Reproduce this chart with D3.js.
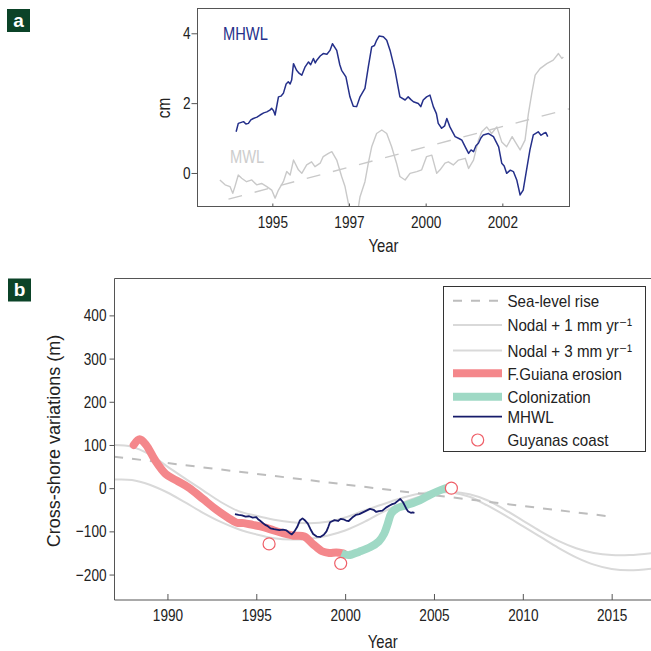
<!DOCTYPE html>
<html><head><meta charset="utf-8">
<script src="https://cdn.jsdelivr.net/npm/d3@7"></script>
<style>
body{margin:0;background:#fff}
svg text{font-family:"Liberation Sans",Arial,Helvetica,"DejaVu Sans",sans-serif;fill:#222}
</style>
</head><body>
<svg id="c" width="651" height="651"></svg>
<script>
// ---------- DATA ----------
// Panel a
const aXTickValues = [1995, 1997.5, 2000, 2002.5];
const aXTickLabels = ["1995", "1997", "2000", "2002"];
const aYTicks = [0, 2, 4];
const mhwlA = [[1993.82,1.18],[1993.89,1.42],[1994.06,1.47],[1994.14,1.40],[1994.22,1.42],[1994.30,1.52],[1994.38,1.56],[1994.50,1.60],[1994.60,1.66],[1994.72,1.72],[1994.82,1.75],[1994.92,1.80],[1994.98,1.85],[1995.04,1.78],[1995.09,1.66],[1995.20,2.18],[1995.28,2.20],[1995.36,2.28],[1995.45,2.55],[1995.52,2.61],[1995.58,2.55],[1995.63,2.66],[1995.69,3.13],[1995.79,2.94],[1995.88,2.85],[1995.96,2.80],[1996.07,3.04],[1996.18,3.18],[1996.25,3.10],[1996.34,3.28],[1996.40,3.15],[1996.45,3.23],[1996.56,3.35],[1996.66,3.42],[1996.78,3.40],[1996.88,3.51],[1996.96,3.70],[1997.10,3.51],[1997.20,3.10],[1997.26,2.94],[1997.40,2.75],[1997.53,2.18],[1997.64,1.91],[1997.75,1.90],[1997.86,2.18],[1998.02,2.42],[1998.13,3.04],[1998.24,3.61],[1998.33,3.65],[1998.40,3.80],[1998.48,3.92],[1998.62,3.90],[1998.73,3.80],[1998.84,3.51],[1999.00,2.94],[1999.16,2.18],[1999.33,2.09],[1999.43,2.18],[1999.52,2.10],[1999.60,2.04],[1999.76,1.99],[1999.84,1.90],[1999.92,2.09],[2000.03,2.18],[2000.14,2.23],[2000.25,1.90],[2000.35,1.70],[2000.41,1.42],[2000.52,1.28],[2000.62,1.35],[2000.69,1.56],[2000.79,1.32],[2000.96,1.04],[2001.10,0.98],[2001.18,0.94],[2001.29,0.75],[2001.40,0.56],[2001.48,0.66],[2001.56,0.61],[2001.64,0.78],[2001.72,0.85],[2001.80,1.00],[2001.88,1.09],[2002.05,1.13],[2002.21,1.04],[2002.38,0.75],[2002.48,0.28],[2002.56,0.20],[2002.64,-0.01],[2002.76,0.08],[2002.86,0.04],[2002.97,-0.20],[2003.08,-0.63],[2003.18,-0.49],[2003.29,0.09],[2003.40,0.66],[2003.51,1.09],[2003.67,1.18],[2003.76,1.08],[2003.84,1.13],[2003.92,1.16],[2003.98,1.04]];
const mwlA = [[1993.29,-0.20],[1993.46,-0.34],[1993.62,-0.39],[1993.71,-0.58],[1993.78,-0.39],[1993.89,-0.06],[1994.00,-0.15],[1994.16,-0.25],[1994.33,-0.20],[1994.49,-0.34],[1994.65,-0.30],[1994.82,-0.39],[1994.98,-0.49],[1995.09,-0.72],[1995.20,-0.49],[1995.36,-0.25],[1995.47,0.04],[1995.58,-0.06],[1995.69,0.37],[1995.85,0.09],[1995.96,-0.01],[1996.12,0.23],[1996.28,0.32],[1996.39,0.18],[1996.56,0.28],[1996.66,0.47],[1996.83,0.56],[1996.94,0.61],[1997.10,0.37],[1997.26,-0.10],[1997.37,-0.39],[1997.48,-0.87],[1997.56,-1.40],[1997.73,-1.40],[1997.86,-0.68],[1998.02,-0.25],[1998.13,0.28],[1998.24,0.75],[1998.40,1.13],[1998.57,1.23],[1998.73,1.13],[1998.89,0.75],[1999.05,0.28],[1999.16,-0.10],[1999.33,-0.20],[1999.49,-0.01],[1999.71,0.04],[1999.87,0.09],[2000.03,0.47],[2000.20,0.51],[2000.36,-0.01],[2000.47,0.09],[2000.63,0.28],[2000.74,0.32],[2000.90,0.23],[2001.07,0.37],[2001.29,0.42],[2001.40,0.13],[2001.56,0.37],[2001.72,0.94],[2001.83,1.18],[2001.99,1.32],[2002.15,1.13],[2002.32,1.32],[2002.48,0.89],[2002.64,0.75],[2002.82,1.04],[2002.92,0.89],[2003.08,0.66],[2003.24,0.94],[2003.35,1.70],[2003.46,2.28],[2003.57,2.80],[2003.73,2.99],[2003.95,3.13],[2004.16,3.23],[2004.33,3.42],[2004.44,3.28],[2004.49,3.32]];
const mwlTrendA = [[1993.57,-0.75],[2004.74,1.85]];

// Panel b
const bXTicks = [1990, 1995, 2000, 2005, 2010, 2015];
const bYTicks = [-200, -100, 0, 100, 200, 300, 400];
const seaLevelRise = [[1987,73],[2015,-66]];
const nodal1 = [[1987,20],[1988,19],[1989,8],[1990,-10],[1991,-33],[1992,-57],[1993,-78],[1994,-95],[1995,-107],[1996,-116],[1997,-119],[1998,-117],[1999,-110],[2000,-98],[2001,-80],[2002,-58],[2003,-38],[2004,-22],[2005,-12],[2006,-9],[2007,-14],[2008,-28],[2009,-50],[2010,-75],[2011,-100],[2012,-122],[2013,-139],[2014,-150],[2015,-155],[2016,-155],[2017.3,-150]];
const nodal3 = [[1987,100],[1988,96],[1989,78],[1990,50],[1991,22],[1992,-5],[1993,-32],[1994,-53],[1995,-64],[1996,-73],[1997,-79],[1998,-81],[1999,-78],[2000,-68],[2001,-53],[2002,-39],[2003,-25],[2004,-14],[2005,-9],[2006,-10],[2007,-20],[2008,-40],[2009,-63],[2010,-88],[2011,-113],[2012,-138],[2013,-160],[2014,-177],[2015,-187],[2016,-190],[2017.3,-186]];
const erosion = [[1988.1,100],[1988.44,113],[1988.8,100],[1989.3,65],[1989.9,33],[1990.5,18],[1991.25,0],[1992,-25],[1992.76,-50],[1993.4,-68],[1993.9,-80],[1994.3,-81],[1994.8,-85],[1995.4,-90],[1996,-98],[1996.5,-104],[1997.1,-110],[1997.7,-112],[1998.2,-130],[1998.7,-146],[1999.1,-150],[1999.5,-149],[1999.9,-151]];
const colonization = [[1999.8,-151],[2000.2,-155],[2000.8,-147],[2001.4,-137],[2001.9,-123],[2002.2,-105],[2002.4,-82],[2002.6,-58],[2002.9,-47],[2003.4,-40],[2004.2,-28],[2004.8,-15],[2005.4,-4],[2005.9,3]];
const mhwlB = [[1993.8,-60],[1994.0,-62],[1994.2,-63],[1994.4,-66],[1994.6,-65],[1994.8,-68],[1995.0,-67],[1995.1,-72],[1995.2,-75],[1995.35,-80],[1995.5,-85],[1995.65,-88],[1995.8,-93],[1996.0,-95],[1996.3,-97],[1996.5,-96],[1996.7,-98],[1996.85,-103],[1997.0,-107],[1997.15,-100],[1997.3,-90],[1997.45,-75],[1997.6,-70],[1997.75,-75],[1997.9,-82],[1998.05,-95],[1998.2,-106],[1998.4,-112],[1998.6,-113],[1998.8,-108],[1998.95,-100],[1999.05,-90],[1999.15,-79],[1999.3,-76],[1999.4,-74],[1999.6,-76],[1999.75,-71],[1999.9,-72],[2000.05,-75],[2000.2,-76],[2000.4,-68],[2000.6,-62],[2000.8,-60],[2001.0,-56],[2001.2,-52],[2001.4,-48],[2001.6,-50],[2001.75,-55],[2001.9,-53],[2002.1,-52],[2002.3,-45],[2002.5,-40],[2002.65,-37],[2002.8,-35],[2002.95,-30],[2003.1,-25],[2003.25,-32],[2003.35,-40],[2003.45,-48],[2003.55,-54],[2003.7,-57],[2003.8,-56],[2003.9,-57]];
const guyanasCoast = [[1995.72,-129],[1999.75,-174],[2005.98,0]];
const legendLabels = ["Sea-level rise", "Nodal + 1 mm yr\u207B\u00B9", "Nodal + 3 mm yr\u207B\u00B9", "F.Guiana erosion", "Colonization", "MHWL", "Guyanas coast"];

// ---------- STYLES ----------
const C = {
  navyA: "#25308a", navyB: "#161b6a", grey: "#c9c9c9", nodal: "#d9d9d9", dash: "#bdbdbd",
  pink: "#f4878b", green: "#9fd9c5", circle: "#ef5f68", panel: "#0b4328", axis: "#555"
};
const svg = d3.select("#c");
// narrow the sans-serif glyphs to the condensed look of the original
function condense(sel, k) {
  sel.each(function () {
    const L = this.getComputedTextLength();
    this.setAttribute("textLength", (L * k).toFixed(2));
    this.setAttribute("lengthAdjust", "spacingAndGlyphs");
  });
}

// ---------- PANEL A ----------
const ax = d3.scaleLinear().domain([1992.56, 2004.69]).range([197.5, 569.5]);
const ay = d3.scaleLinear().domain([-0.96, 4.71]).range([206.5, 8.5]);
const ga = svg.append("g");
ga.append("clipPath").attr("id", "clipA").append("rect")
  .attr("x", ax.range()[0]).attr("y", ay.range()[1]).attr("width", ax.range()[1]-ax.range()[0]).attr("height", ay.range()[0]-ay.range()[1]);
const lineA = d3.line().x(d => ax(d[0])).y(d => ay(d[1]));
const plotA = ga.append("g").attr("clip-path", "url(#clipA)");
plotA.append("path").datum(mwlTrendA).attr("d", lineA).attr("fill", "none").attr("stroke", C.grey).attr("stroke-width", 1.4).attr("stroke-dasharray", "14,13");
plotA.append("path").datum(mwlA).attr("d", lineA).attr("fill", "none").attr("stroke", C.grey).attr("stroke-width", 1.4).attr("stroke-linejoin", "round");
plotA.append("path").datum(mhwlA).attr("d", lineA).attr("fill", "none").attr("stroke", C.navyA).attr("stroke-width", 1.5).attr("stroke-linejoin", "round");
ga.append("rect").attr("x", ax.range()[0]).attr("y", ay.range()[1]).attr("width", ax.range()[1]-ax.range()[0]).attr("height", ay.range()[0]-ay.range()[1])
  .attr("fill", "none").attr("stroke", C.axis).attr("stroke-width", 1);
const aYAxis = ga.append("g").attr("transform", `translate(${ax.range()[0]},0)`)
  .call(d3.axisLeft(ay).tickValues(aYTicks).tickSize(6).tickPadding(1).tickFormat(d3.format("d")));
const aXAxis = ga.append("g").attr("transform", `translate(0,${ay.range()[0]})`)
  .call(d3.axisBottom(ax).tickValues(aXTickValues).tickSizeInner(-3).tickSizeOuter(0).tickPadding(9).tickFormat((d,i) => aXTickLabels[i]));
[aYAxis, aXAxis].forEach(g => { g.select(".domain").remove(); g.selectAll("line").attr("stroke", C.axis); g.selectAll("text").attr("font-size", 17).attr("font-family", null).attr("fill", "#222"); condense(g.selectAll("text"), 0.8); });
condense(ga.append("text").attr("x", 223).attr("y", 40).attr("font-size", 17.5).style("fill", C.navyA).text("MHWL"), 0.84);
condense(ga.append("text").attr("x", 230).attr("y", 163).attr("font-size", 17.5).style("fill", "#cdcdcd").text("MWL"), 0.84);
condense(ga.append("text").attr("transform", "translate(170,108) rotate(-90)").attr("text-anchor", "middle").attr("font-size", 18).text("cm"), 0.85);
condense(ga.append("text").attr("x", (ax.range()[0]+ax.range()[1])/2).attr("y", 252).attr("text-anchor", "middle").attr("font-size", 19).text("Year"), 0.78);

// ---------- PANEL B ----------
const bx = d3.scaleLinear().domain([1987.02, 2017.27]).range([114.5, 652]);
const by = d3.scaleLinear().domain([-258.9, 485.4]).range([600, 278.5]);
const gb = svg.append("g");
gb.append("clipPath").attr("id", "clipB").append("rect")
  .attr("x", bx.range()[0]).attr("y", by.range()[1]).attr("width", bx.range()[1]-bx.range()[0]).attr("height", by.range()[0]-by.range()[1]);
const lineB = d3.line().x(d => bx(d[0])).y(d => by(d[1]));
const smoothB = d3.line().x(d => bx(d[0])).y(d => by(d[1])).curve(d3.curveCatmullRom);
const plotB = gb.append("g").attr("clip-path", "url(#clipB)");
plotB.append("path").datum(nodal1).attr("d", smoothB).attr("fill", "none").attr("stroke", C.nodal).attr("stroke-width", 2);
plotB.append("path").datum(nodal3).attr("d", smoothB).attr("fill", "none").attr("stroke", C.nodal).attr("stroke-width", 2);
plotB.append("path").datum(seaLevelRise).attr("d", lineB).attr("fill", "none").attr("stroke", C.dash).attr("stroke-width", 2).attr("stroke-dasharray", "9,9");
plotB.append("path").datum(erosion).attr("d", smoothB).attr("fill", "none").attr("stroke", C.pink).attr("stroke-width", 8).attr("stroke-linecap", "round").attr("stroke-linejoin", "round");
plotB.append("path").datum(colonization).attr("d", smoothB).attr("fill", "none").attr("stroke", C.green).attr("stroke-width", 8).attr("stroke-linejoin", "round");
plotB.append("path").datum(mhwlB).attr("d", lineB).attr("fill", "none").attr("stroke", C.navyB).attr("stroke-width", 1.8).attr("stroke-linejoin", "round");
plotB.selectAll("circle.gc").data(guyanasCoast).join("circle").attr("class", "gc")
  .attr("cx", d => bx(d[0])).attr("cy", d => by(d[1])).attr("r", 6).attr("fill", "#fff").attr("stroke", C.circle).attr("stroke-width", 1.2);
// frame (right edge runs past the canvas)
gb.append("path").attr("d", `M${bx.range()[1]+10},${by.range()[1]}H${bx.range()[0]}V${by.range()[0]}H${bx.range()[1]+10}`)
  .attr("fill", "none").attr("stroke", C.axis).attr("stroke-width", 1);
const bYAxis = gb.append("g").attr("transform", `translate(${bx.range()[0]},0)`)
  .call(d3.axisLeft(by).tickValues(bYTicks).tickSize(5).tickPadding(3));
const bXAxis = gb.append("g").attr("transform", `translate(0,${by.range()[0]})`)
  .call(d3.axisBottom(bx).tickValues(bXTicks).tickSizeInner(-6).tickSizeOuter(0).tickPadding(9).tickFormat(d3.format("d")));
[bYAxis, bXAxis].forEach(g => { g.select(".domain").remove(); g.selectAll("line").attr("stroke", C.axis); g.selectAll("text").attr("font-size", 17).attr("font-family", null).attr("fill", "#222"); condense(g.selectAll("text"), 0.8); });
condense(gb.append("text").attr("transform", "translate(60,441) rotate(-90)").attr("text-anchor", "middle").attr("font-size", 19).text("Cross-shore variations (m)"), 0.95);
condense(gb.append("text").attr("x", (bx.range()[0]+651)/2).attr("y", 648).attr("text-anchor", "middle").attr("font-size", 19).text("Year"), 0.78);

// legend
const lg = gb.append("g");
lg.append("rect").attr("x", 443.5).attr("y", 286.5).attr("width", 202).attr("height", 165).attr("fill", "#fff").attr("stroke", "#333").attr("stroke-width", 1);
const rowYs = [300.7, 325, 350.5, 373.3, 396.7, 416.7, 440];
const symStyles = [
  {stroke: C.dash, w: 2, dash: "9,9"}, {stroke: C.nodal, w: 2}, {stroke: C.nodal, w: 2},
  {stroke: C.pink, w: 8}, {stroke: C.green, w: 8}, {stroke: C.navyB, w: 1.8}, null
];
legendLabels.forEach((lab, i) => {
  const y = rowYs[i];
  const s = symStyles[i];
  if (s) {
    lg.append("line").attr("x1", 453).attr("x2", 502).attr("y1", y).attr("y2", y)
      .attr("stroke", s.stroke).attr("stroke-width", s.w).attr("stroke-dasharray", s.dash || null);
  } else {
    lg.append("circle").attr("cx", 477.7).attr("cy", y).attr("r", 6).attr("fill", "#fff").attr("stroke", C.circle).attr("stroke-width", 1.2);
  }
  const t = lg.append("text").attr("x", 507.5).attr("y", y + 6.2).attr("font-size", 17).text(lab);
  condense(t, 0.89);
});

// panel labels
[["a", 7, 9], ["b", 8, 278.5]].forEach(([lab, x, y]) => {
  svg.append("rect").attr("x", x).attr("y", y).attr("width", 23).attr("height", 23).attr("fill", C.panel);
  svg.append("text").attr("x", x + 11.5).attr("y", y + 17.5).attr("text-anchor", "middle").attr("font-size", 19).attr("font-weight", "bold").style("fill", "#fff").text(lab);
});
</script>
</body></html>
